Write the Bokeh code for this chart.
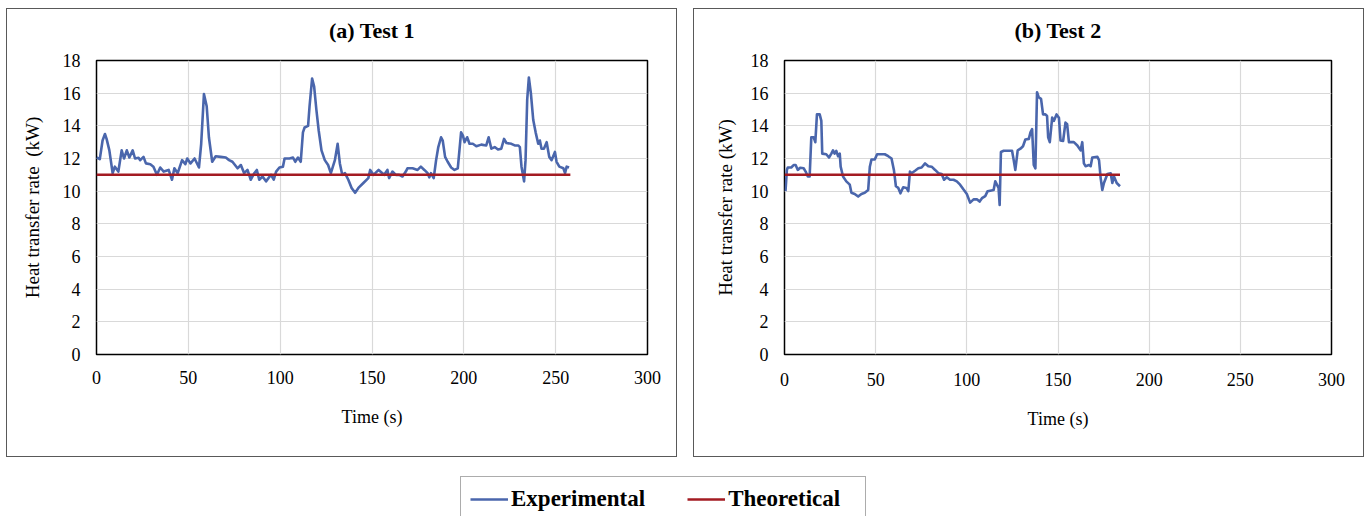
from bokeh.plotting import figure
from bokeh.models import Range1d, SingleIntervalTicker, Legend, LegendItem, Title
from bokeh.layouts import row, column
from bokeh.embed import file_html
from bokeh.resources import INLINE

# ---------------- data ----------------
time_a = [0, 1.8, 3.3, 4.6, 5.5, 7, 8.8, 10, 11.9, 13.7, 15, 16.5, 17.9, 19.7, 21, 22.9, 23.8, 25.6,
          26.9, 29.3, 31, 32.9, 34.7, 36.6, 39.3, 41.1, 42.4, 44.2, 46.6, 48.4, 49.4, 51.2, 53.4,
          55.8, 57, 58.5, 60, 61.2, 63, 64.9, 67.6, 70.4, 72.2, 74, 76.8, 78.6, 80.4, 82.2, 84,
          85.9, 87.3, 88.6, 90.4, 92.3, 95, 96.5, 97.8, 99.6, 101.5, 102.4, 105.1, 107, 108.2,
          109.7, 111.2, 112.4, 113.3, 115.2, 116, 117.4, 118.5, 119.7, 121, 122.5, 124.3, 126.1,
          127.6, 129.8, 131.3, 132.5, 133.8, 135.3, 137.1, 138.9, 140.8, 142.6, 145.3, 148, 149,
          150.8, 153.6, 156.6, 158.4, 159.3, 161.1, 163, 164.8, 166.6, 168.4, 169.3, 172.1, 174.8,
          176.6, 178.5, 180.3, 181.2, 182.1, 183.6, 184.9, 186.1, 187.6, 188.5, 189.8, 191.2,
          193.1, 194.9, 196.7, 197.6, 198.5, 199.5, 200.4, 201.8, 203.1, 204.9, 206.8, 209.5,
          212.2, 213.5, 215, 216.8, 218.6, 220.4, 221.9, 223.2, 225.9, 227.7, 229.6, 230.5, 231.4,
          232.8, 233.6, 234.5, 235.4, 236.5, 237.8, 239.1, 240.5, 241.4, 242.3, 243.6, 245.1,
          246.5, 247.8, 249.6, 250.5, 252, 254.2, 255.1, 256, 257.3]
exp_a = [12.06, 11.96, 13.1, 13.5, 13.2, 12.5, 11.1, 11.5, 11.2, 12.5, 12.0, 12.5, 12.06, 12.5, 12.0,
         12.04, 11.9, 12.1, 11.7, 11.65, 11.5, 11.0, 11.45, 11.2, 11.3, 10.7, 11.4, 11.1, 11.9,
         11.65, 12.0, 11.7, 12.0, 11.45, 12.9, 15.94, 15.2, 13.3, 11.8, 12.14, 12.1, 12.06, 11.9,
         11.8, 11.4, 11.6, 11.1, 11.3, 10.7, 11.1, 11.3, 10.7, 10.9, 10.6, 11.0, 10.7, 11.2, 11.45,
         11.5, 12.0, 12.0, 12.06, 11.8, 12.06, 11.8, 13.6, 13.9, 14.0, 15.2, 16.9, 16.4, 15.0, 13.7,
         12.5, 11.9, 11.6, 11.1, 11.9, 12.9, 11.7, 11.0, 11.1, 10.7, 10.2, 9.9, 10.2, 10.5, 10.8,
         11.3, 11.0, 11.3, 11.0, 11.3, 10.8, 11.2, 11.0, 11.0, 10.9, 11.2, 11.4, 11.4, 11.3, 11.5,
         11.3, 11.1, 10.85, 11.1, 10.8, 11.9, 12.7, 13.3, 13.1, 12.1, 11.8, 11.45, 11.3, 11.4, 12.5,
         13.6, 13.4, 13.0, 13.3, 12.9, 12.9, 12.75, 12.85, 12.8, 13.3, 12.6, 12.7, 12.55, 12.6,
         13.2, 12.95, 12.9, 12.8, 12.8, 12.7, 11.5, 10.6, 11.9, 15.6, 16.96, 16.0, 14.35, 13.6,
         12.9, 13.1, 12.6, 12.6, 13.0, 12.1, 11.9, 12.4, 11.8, 11.5, 11.4, 11.1, 11.5, 11.45]
theo_time_a = [0, 258]
theo_a = [11.0, 11.0]

time_b = [0.55, 1.3, 1.8, 3.7, 5, 6.1, 7.3, 8.6, 10.5, 11.6, 12.8, 13.8, 14.7, 16, 16.9, 17.8, 19.3,
          20.2, 20.7, 22.9, 24.4, 25.7, 26.6, 27.5, 28.4, 29.4, 30.3, 30.8, 32.1, 33.9, 35.8, 36.7,
          38.5, 40.4, 42.2, 44, 45.9, 46.8, 47.7, 49.5, 50.8, 55, 56.9, 58.7, 60, 61.1, 62.4, 63.6,
          65.1, 66.9, 67.9, 68.8, 69.7, 71.6, 73.4, 75.2, 77.1, 78.9, 80.7, 82.6, 84.4, 86.2, 87.5,
          89, 90.8, 92.7, 94.5, 96.3, 98.2, 100, 101.8, 103.7, 105.5, 107, 108.3, 110.1, 111.4,
          112.8, 114.7, 115.6, 116.5, 117.4, 118, 118.7, 120.2, 124.8, 125.7, 126.6, 127.9, 129.4,
          130.8, 132.1, 134, 134.9, 135.8, 136.7, 137.6, 138.5, 139.4, 140.7, 141.8, 143.1, 144,
          144.6, 145.5, 146.8, 147.7, 149.2, 150.5, 151.4, 152.8, 154.1, 155, 156, 158.7, 160.6,
          162.4, 163.3, 164.2, 165.1, 167, 167.9, 168.8, 171.6, 172.5, 173.4, 174.3, 175.2, 177.1,
          178.9, 179.8, 180.7, 182.2, 184]
exp_b = [10.0, 11.3, 11.45, 11.45, 11.6, 11.6, 11.3, 11.43, 11.4, 11.2, 10.9, 10.9, 13.3, 13.3, 13.0,
         14.7, 14.7, 14.3, 12.3, 12.26, 12.06, 12.3, 12.5, 12.3, 12.47, 12.14, 12.3, 11.5, 10.9,
         10.6, 10.4, 9.9, 9.83, 9.67, 9.83, 9.9, 10.07, 11.5, 11.94, 11.94, 12.26, 12.26, 12.14,
         12.0, 11.3, 10.3, 10.2, 9.87, 10.24, 10.2, 10.0, 11.2, 11.1, 11.25, 11.4, 11.45, 11.7,
         11.53, 11.5, 11.3, 11.1, 11.05, 10.7, 10.85, 10.7, 10.7, 10.6, 10.4, 10.1, 9.83, 9.3, 9.5,
         9.5, 9.36, 9.57, 9.7, 10.0, 10.03, 10.07, 10.6, 10.4, 10.2, 9.16, 12.4, 12.47, 12.47, 11.9,
         11.3, 12.5, 12.6, 12.75, 13.16, 13.2, 13.6, 13.8, 11.6, 11.4, 16.06, 15.75, 15.65, 14.7,
         14.7, 14.6, 13.3, 13.0, 14.5, 14.3, 14.7, 14.5, 13.1, 13.07, 14.2, 14.1, 13.0, 13.0, 12.8,
         12.5, 13.0, 11.7, 11.53, 11.6, 11.53, 12.06, 12.1, 11.9, 10.8, 10.07, 10.5, 11.05, 11.1,
         10.5, 10.9, 10.5, 10.3]
theo_time_b = [0, 184]
theo_b = [11.0, 11.0]

titles = ["(a) Test 1", "(b) Test 2"]
x_label = "Time (s)"
y_labels = ["Heat transfer rate\u00a0 (kW)", "Heat transfer rate (kW)"]
series_names = ["Experimental", "Theoretical"]
X_MIN, X_MAX, Y_MIN, Y_MAX = 0, 300, 0, 18

FONT = "Liberation Serif"
BLUE = "#4A66AC"
RED = "#A31B22"


def make_panel(title, ylab, t, v, tt, tv, mb_left, mb_right, mb_bottom,
               x_std, y_lab_std):
    p = figure(width=671, height=449, x_range=Range1d(X_MIN, X_MAX),
               y_range=Range1d(Y_MIN, Y_MAX),
               output_backend="svg", toolbar_location=None,
               min_border_left=mb_left, min_border_right=mb_right,
               min_border_top=51, min_border_bottom=mb_bottom)
    # blank spacer between plot area and title, then the bold panel title
    p.add_layout(Title(text=" ", text_font_size="1px", standoff=15), "above")
    p.add_layout(Title(text=title, align="center", text_font=FONT, text_font_style="bold",
                       text_font_size="22px", text_color="black", standoff=0), "above")
    p.xaxis.ticker = SingleIntervalTicker(interval=50, num_minor_ticks=0)
    p.yaxis.ticker = SingleIntervalTicker(interval=2, num_minor_ticks=0)
    p.xaxis.axis_label = x_label
    p.yaxis.axis_label = ylab
    for ax in (p.xaxis[0], p.yaxis[0]):
        ax.axis_line_color = None
        ax.major_tick_line_color = None
        ax.minor_tick_line_color = None
        ax.major_label_text_font = FONT
        ax.major_label_text_font_size = "18px"
        ax.major_label_text_color = "black"
        ax.axis_label_text_font = FONT
        ax.axis_label_text_font_style = "normal"
        ax.axis_label_text_color = "black"
    p.xaxis.axis_label_text_font_size = "18px"
    p.yaxis.axis_label_text_font_size = "19px"
    p.xaxis.major_label_standoff = x_std
    p.xaxis.axis_label_standoff = 20
    p.yaxis.major_label_standoff = 10
    p.yaxis.axis_label_standoff = y_lab_std
    p.grid.grid_line_color = "#d9d9d9"
    p.grid.grid_line_width = 1.2
    p.outline_line_color = "black"
    p.outline_line_width = 1.5
    p.line(t, v, color=BLUE, line_width=2.6, line_join="round")
    p.line(tt, tv, color=RED, line_width=2.5)
    p.styles = {"border": "1.5px solid #595959"}
    return p


pa = make_panel(titles[0], y_labels[0], time_a, exp_a, theo_time_a, theo_a, 89, 31, 104, 10, 17)
pb = make_panel(titles[1], y_labels[1], time_b, exp_b, theo_time_b, theo_b, 90, 34, 100, 12, 12)
pa.margin = (8, 0, 0, 6)
pb.margin = (8, 0, 0, 16)

# legend figure (the sample renderers sit outside the visible range)
lf = figure(width=408, height=41, x_range=Range1d(0, 1), y_range=Range1d(0, 1),
            output_backend="svg", toolbar_location=None, x_axis_type=None, y_axis_type=None,
            min_border=0, min_border_left=0, min_border_right=0, min_border_top=0,
            min_border_bottom=0)
lf.grid.visible = False
lf.outline_line_color = None
r1 = lf.line(theo_time_a, theo_a, color=BLUE, line_width=2.5)
r2 = lf.line(theo_time_b, theo_b, color=RED, line_width=2.5)
leg = Legend(items=[LegendItem(label=series_names[0], renderers=[r1]),
                    LegendItem(label=series_names[1], renderers=[r2])],
             orientation="horizontal", location=(0, -6), margin=0, padding=9,
             spacing=42, glyph_width=38, glyph_height=20, label_standoff=3, label_width=128,
             label_text_font=FONT, label_text_font_style="bold", label_text_font_size="23px",
             label_text_color="black", border_line_color="#595959", border_line_width=1.5,
             background_fill_alpha=0)
lf.add_layout(leg, "center")
lf.margin = (18, 0, 0, 460)

layout = column(row(pa, pb), lf)
open("out.html", "w").write(file_html(layout, INLINE))
